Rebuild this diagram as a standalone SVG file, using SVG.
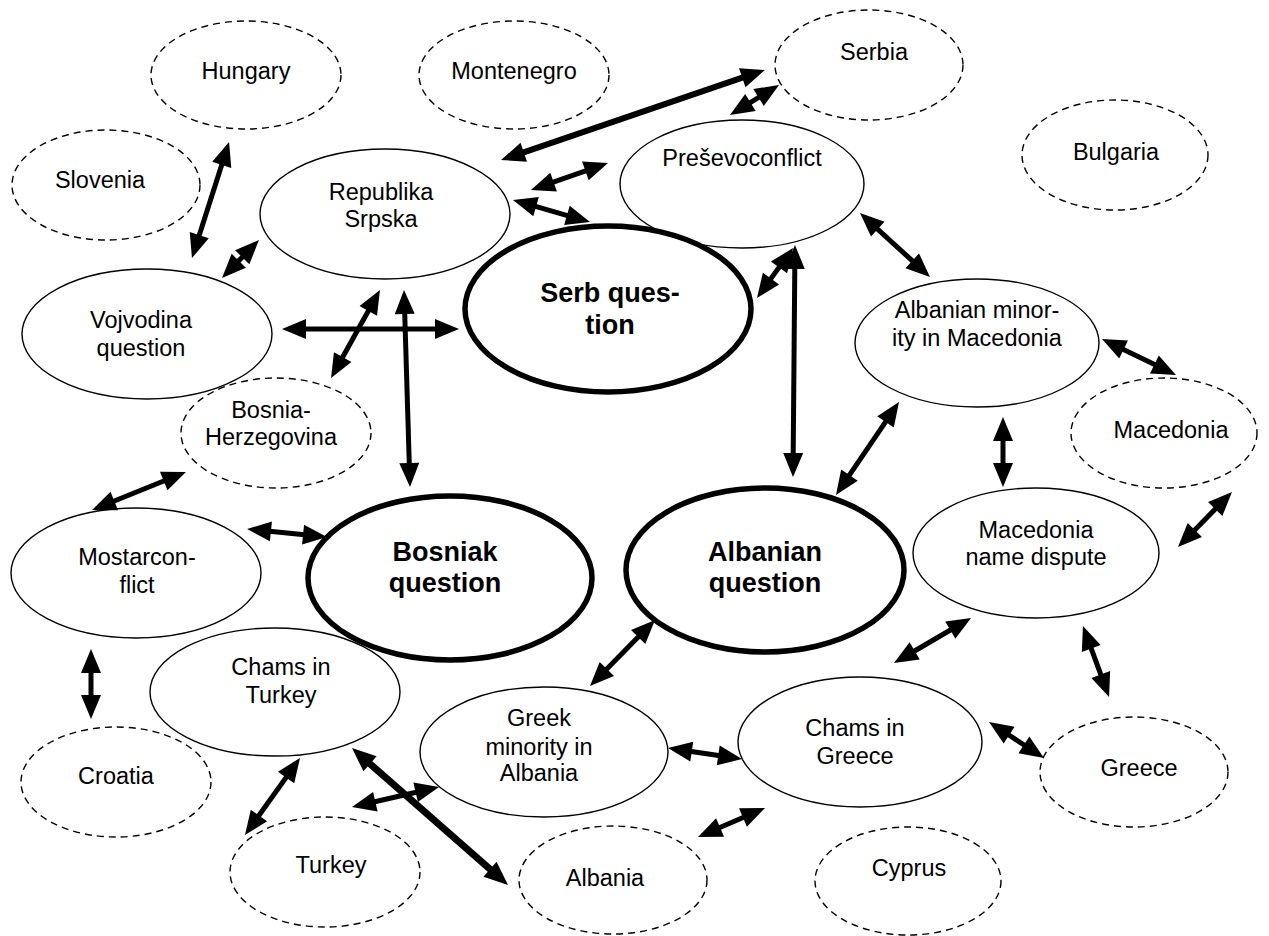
<svg xmlns="http://www.w3.org/2000/svg" width="1269" height="936" viewBox="0 0 1269 936">
<style>
.n{fill:none;stroke:#000;stroke-width:1.4}
.d{fill:none;stroke:#000;stroke-width:1.4;stroke-dasharray:7 5}
.b{fill:none;stroke:#000;stroke-width:5.5}
text{font-family:"Liberation Sans",Arial,sans-serif;font-size:23.5px;text-anchor:middle;fill:#000}
text.bt{font-weight:bold;font-size:27px}
#conn line{stroke:#000;stroke-width:5;marker-start:url(#ah);marker-end:url(#ah)}
</style>
<defs>
<marker id="ah" markerUnits="userSpaceOnUse" markerWidth="24" markerHeight="20" refX="14" refY="10" orient="auto-start-reverse" overflow="visible"><path d="M0,0 L24,10 L0,20 z" fill="#000"/></marker>
</defs>
<rect width="1269" height="936" fill="#fff"/>
<g id="hungary"><ellipse class="d" cx="246" cy="75" rx="95" ry="54"/><text x="246" y="79">Hungary</text></g>
<g id="montenegro"><ellipse class="d" cx="514" cy="75" rx="95" ry="54"/><text x="514" y="79">Montenegro</text></g>
<g id="serbia"><ellipse class="d" cx="869" cy="65" rx="94" ry="55"/><text x="874" y="60">Serbia</text></g>
<g id="slovenia"><ellipse class="d" cx="106" cy="185" rx="94" ry="55"/><text x="100" y="188">Slovenia</text></g>
<g id="bulgaria"><ellipse class="d" cx="1115" cy="155" rx="93" ry="55"/><text x="1116" y="160">Bulgaria</text></g>
<g id="republika"><ellipse class="n" cx="385" cy="214" rx="125" ry="65"/><text x="381" y="200">Republika</text><text x="381" y="227">Srpska</text></g>
<g id="presevo"><ellipse class="n" cx="742" cy="184" rx="122" ry="64"/><text x="742" y="166">Preševoconflict</text></g>
<g id="serbq"><ellipse class="b" cx="608" cy="309" rx="143" ry="83"/><text class="bt" x="610" y="302">Serb ques-</text><text class="bt" x="610" y="334">tion</text></g>
<g id="vojvodina"><ellipse class="n" cx="147" cy="334" rx="125" ry="65"/><text x="141" y="328">Vojvodina</text><text x="141" y="356">question</text></g>
<g id="albmin"><ellipse class="n" cx="977" cy="343" rx="122" ry="64"/><text x="977" y="318">Albanian minor-</text><text x="977" y="346">ity in Macedonia</text></g>
<g id="bosnia"><ellipse class="d" cx="276" cy="433" rx="95" ry="55"/><text x="271" y="418">Bosnia-</text><text x="271" y="445">Herzegovina</text></g>
<g id="macedonia"><ellipse class="d" cx="1164" cy="433" rx="93" ry="55"/><text x="1171" y="438">Macedonia</text></g>
<g id="mostar"><ellipse class="n" cx="136" cy="573" rx="125" ry="65"/><text x="137" y="565">Mostarcon-</text><text x="137" y="593">flict</text></g>
<g id="bosniakq"><ellipse class="b" cx="450" cy="578" rx="142" ry="82"/><text class="bt" x="445" y="561">Bosniak</text><text class="bt" x="445" y="592">question</text></g>
<g id="albq"><ellipse class="b" cx="765" cy="570" rx="139" ry="82"/><text class="bt" x="765" y="561">Albanian</text><text class="bt" x="765" y="592">question</text></g>
<g id="namedispute"><ellipse class="n" cx="1036" cy="553" rx="123" ry="65"/><text x="1036" y="538">Macedonia</text><text x="1036" y="565">name dispute</text></g>
<g id="chamsturkey"><ellipse class="n" cx="275" cy="692" rx="125" ry="64"/><text x="281" y="675">Chams in</text><text x="281" y="703">Turkey</text></g>
<g id="croatia"><ellipse class="d" cx="116" cy="782" rx="95" ry="55"/><text x="116" y="784">Croatia</text></g>
<g id="greekmin"><ellipse class="n" cx="544" cy="752" rx="124" ry="65"/><text x="539" y="726">Greek</text><text x="539" y="755">minority in</text><text x="539" y="781">Albania</text></g>
<g id="chamsgreece"><ellipse class="n" cx="860" cy="742" rx="122" ry="65"/><text x="855" y="736">Chams in</text><text x="855" y="764">Greece</text></g>
<g id="greece"><ellipse class="d" cx="1134" cy="772" rx="94" ry="55"/><text x="1139" y="776">Greece</text></g>
<g id="turkey"><ellipse class="d" cx="325" cy="872" rx="95" ry="55"/><text x="331" y="873">Turkey</text></g>
<g id="albania"><ellipse class="d" cx="613" cy="880" rx="94" ry="54"/><text x="605" y="886">Albania</text></g>
<g id="cyprus"><ellipse class="d" cx="908" cy="881" rx="93" ry="54"/><text x="909" y="876">Cyprus</text></g>
<g id="conn">
<line x1="226" y1="151.5" x2="195" y2="248.5"/>
<line x1="252" y1="247.2" x2="229" y2="270.8"/>
<line x1="755.5" y1="73.2" x2="510.5" y2="156.8" style="stroke-width:6"/>
<line x1="540.4" y1="186.7" x2="598.6" y2="166.3"/>
<line x1="522.6" y1="202.7" x2="580.4" y2="219.3"/>
<line x1="738.5" y1="109.8" x2="770.5" y2="90.2"/>
<line x1="867.4" y1="219.8" x2="922.6" y2="270.2"/>
<line x1="787.2" y1="256.1" x2="762.8" y2="289.9"/>
<line x1="794.9" y1="255" x2="793.1" y2="467"/>
<line x1="292" y1="329" x2="449" y2="329"/>
<line x1="375.1" y1="298.7" x2="335.9" y2="369.3"/>
<line x1="404.3" y1="300" x2="409.7" y2="477"/>
<line x1="176.7" y1="475.7" x2="101.3" y2="506.3"/>
<line x1="257" y1="530" x2="317" y2="536"/>
<line x1="893.4" y1="410.3" x2="841.6" y2="486.7"/>
<line x1="1111" y1="343.4" x2="1167" y2="370.6"/>
<line x1="1003" y1="427" x2="1003" y2="477"/>
<line x1="1225" y1="499.1" x2="1185" y2="539.9"/>
<line x1="962.4" y1="623" x2="902.6" y2="658"/>
<line x1="1086.4" y1="635.4" x2="1105.6" y2="687.6"/>
<line x1="997.4" y1="727.5" x2="1035.6" y2="752.5"/>
<line x1="648" y1="627.1" x2="597" y2="678.9"/>
<line x1="677.9" y1="749.5" x2="732.1" y2="757.5"/>
<line x1="755.8" y1="812" x2="707.2" y2="833"/>
<line x1="91" y1="659" x2="91" y2="709"/>
<line x1="294.2" y1="766.1" x2="250.8" y2="826.9"/>
<line x1="359.5" y1="754.6" x2="500.5" y2="878.4" style="stroke-width:7"/>
<line x1="429.3" y1="789.2" x2="361.7" y2="804.8"/>
</g>
</svg>
